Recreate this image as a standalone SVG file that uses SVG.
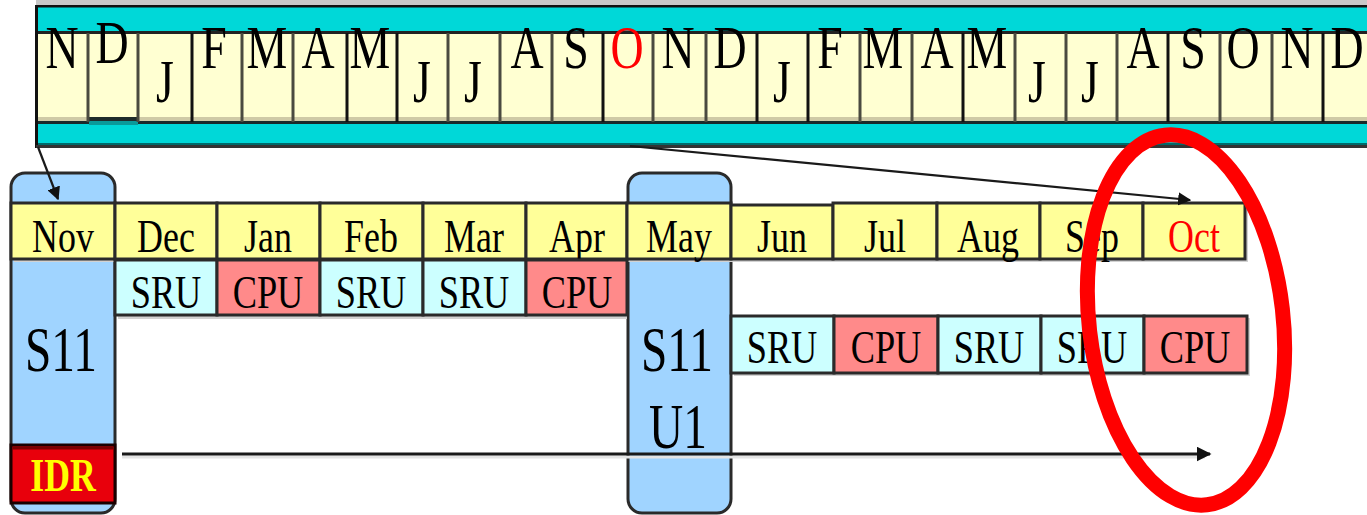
<svg xmlns="http://www.w3.org/2000/svg" width="1367" height="515" viewBox="0 0 1367 515">
  <defs>
    <style>
      .t { font-family: "Liberation Serif", "Times New Roman", serif; text-anchor: middle; fill: #000; }
      .big { font-size: 62px; }
      .mid { font-size: 46px; }
      .s11 { font-size: 64px; }
      .idr { font-size: 47px; font-weight: bold; fill: #FFFF00; }
      .red { fill: #FF0000; }
      .div { stroke: #4a4a40; stroke-width: 3; }
      .cell { stroke: #2a2a2a; stroke-width: 3; }
      .mon { fill: #FFFF99; }
      .sru { fill: #CCFFFF; }
      .cpu { fill: #FF8A8A; }
      .shadow { fill: #d2d2d2; }
      .box { fill: #A0D4FF; stroke: #2a2a2a; stroke-width: 3; }
      .conn { stroke: #1a1a1a; fill: none; }
    </style>
    <marker id="arrowhead" viewBox="0 0 10 10" refX="9" refY="5" markerWidth="5" markerHeight="5" orient="auto" markerUnits="strokeWidth">
      <path d="M0,0 L10,5 L0,10 Z" fill="#111"/>
    </marker>
    <marker id="arrowsmall" viewBox="0 0 10 10" refX="9" refY="5" markerWidth="6" markerHeight="6" orient="auto" markerUnits="strokeWidth">
      <path d="M0,0 L10,5 L0,10 Z" fill="#111"/>
    </marker>
  </defs>

  <rect width="1367" height="515" fill="#ffffff"/>

  <!-- two-year month strip at the top -->
  <g id="year-strip">
    <rect x="36" y="0" width="1331" height="5" fill="#c8c8c8"/>
    <rect x="36" y="5" width="1331" height="143" fill="#00D8D8"/>
    <rect x="36" y="5" width="1331" height="2.5" fill="#111"/>
    <rect x="35" y="5" width="3" height="143" fill="#111"/>
    <rect x="38" y="143" width="1329" height="2" fill="#006a6a"/>
    <rect x="36" y="145" width="1331" height="3" fill="#333"/>
    <!-- cell row -->
    <rect x="38" y="33" width="1329" height="89" fill="#FFFFD2"/>
    <rect x="38" y="117" width="1329" height="4" fill="#cfcaa6"/>
    <rect x="38" y="31" width="1329" height="3" fill="#222"/>
    <rect x="38" y="121" width="1329" height="3" fill="#1a2a2a"/>
    <!-- raised December cell -->
    <rect x="89" y="112" width="49" height="6" fill="#FFFFD2"/>
    <rect x="89" y="117" width="49" height="4" fill="#1f2b2b"/>
    <rect x="89" y="121" width="49" height="4" fill="#0a9a9a"/>
    <g class="div">
      <line x1="88" y1="33" x2="88" y2="122"/>
      <line x1="138" y1="33" x2="138" y2="122"/>
      <line x1="192" y1="33" x2="192" y2="122" stroke="#111"/>
      <line x1="242" y1="33" x2="242" y2="122"/>
      <line x1="293" y1="33" x2="293" y2="122"/>
      <line x1="347" y1="33" x2="347" y2="122" stroke="#111"/>
      <line x1="397" y1="33" x2="397" y2="122" stroke="#111"/>
      <line x1="448" y1="33" x2="448" y2="122"/>
      <line x1="500" y1="33" x2="500" y2="122"/>
      <line x1="552" y1="33" x2="552" y2="122"/>
      <line x1="603" y1="33" x2="603" y2="122" stroke="#111"/>
      <line x1="653" y1="33" x2="653" y2="122"/>
      <line x1="706" y1="33" x2="706" y2="122"/>
      <line x1="757" y1="33" x2="757" y2="122" stroke="#111"/>
      <line x1="808" y1="33" x2="808" y2="122" stroke="#111"/>
      <line x1="860" y1="33" x2="860" y2="122"/>
      <line x1="912" y1="33" x2="912" y2="122"/>
      <line x1="963" y1="33" x2="963" y2="122" stroke="#111"/>
      <line x1="1015" y1="33" x2="1015" y2="122"/>
      <line x1="1066" y1="33" x2="1066" y2="122"/>
      <line x1="1117" y1="33" x2="1117" y2="122"/>
      <line x1="1168" y1="33" x2="1168" y2="122" stroke="#111"/>
      <line x1="1220" y1="33" x2="1220" y2="122"/>
      <line x1="1272" y1="33" x2="1272" y2="122"/>
      <line x1="1323" y1="33" x2="1323" y2="122" stroke="#111"/>
    </g>
    <g class="t big">
      <text transform="translate(62,68) scale(0.74,1)">N</text>
      <text transform="translate(112,63) scale(0.74,1)">D</text>
      <text transform="translate(165,102) scale(0.74,1)">J</text>
      <text transform="translate(214,68) scale(0.74,1)">F</text>
      <text transform="translate(267,68) scale(0.74,1)">M</text>
      <text transform="translate(318,68) scale(0.74,1)">A</text>
      <text transform="translate(370,68) scale(0.74,1)">M</text>
      <text transform="translate(422,102) scale(0.74,1)">J</text>
      <text transform="translate(473,102) scale(0.74,1)">J</text>
      <text transform="translate(527,68) scale(0.74,1)">A</text>
      <text transform="translate(576,68) scale(0.74,1)">S</text>
      <text class="red" transform="translate(627,68) scale(0.74,1)">O</text>
      <text transform="translate(678,68) scale(0.74,1)">N</text>
      <text transform="translate(730,68) scale(0.74,1)">D</text>
      <text transform="translate(782,102) scale(0.74,1)">J</text>
      <text transform="translate(830,68) scale(0.74,1)">F</text>
      <text transform="translate(883,68) scale(0.74,1)">M</text>
      <text transform="translate(937,68) scale(0.74,1)">A</text>
      <text transform="translate(987,68) scale(0.74,1)">M</text>
      <text transform="translate(1037,102) scale(0.74,1)">J</text>
      <text transform="translate(1090,102) scale(0.74,1)">J</text>
      <text transform="translate(1143,68) scale(0.74,1)">A</text>
      <text transform="translate(1193,68) scale(0.74,1)">S</text>
      <text transform="translate(1243,68) scale(0.74,1)">O</text>
      <text transform="translate(1297,68) scale(0.74,1)">N</text>
      <text transform="translate(1347,68) scale(0.74,1)">D</text>
    </g>
  </g>

  <!-- release bars -->
  <g id="release-s11">
    <rect class="box" x="11" y="173" width="104" height="340" rx="14"/>
  </g>
  <g id="release-s11u1">
    <rect class="box" x="628" y="173" width="103" height="340" rx="14"/>
  </g>

  <!-- month row -->
  <g id="months">
    <rect class="shadow" x="14" y="205" width="1234" height="57"/>
    <g class="cell mon">
      <rect x="11" y="203" width="104" height="56"/>
      <rect x="115" y="203" width="102" height="56"/>
      <rect x="217" y="203" width="103" height="56"/>
      <rect x="320" y="203" width="103" height="56"/>
      <rect x="423" y="203" width="103" height="56"/>
      <rect x="526" y="203" width="101" height="56"/>
      <rect x="627" y="203" width="104" height="56"/>
      <rect x="731" y="205" width="102" height="54"/>
      <rect x="833" y="203" width="104" height="56"/>
      <rect x="937" y="203" width="103" height="56"/>
      <rect x="1040" y="203" width="103" height="56"/>
      <rect x="1143" y="203" width="102" height="56"/>
    </g>
    <g class="t mid">
      <text transform="translate(63,252) scale(0.78,1)">Nov</text>
      <text transform="translate(166,252) scale(0.78,1)">Dec</text>
      <text transform="translate(268,252) scale(0.78,1)">Jan</text>
      <text transform="translate(371,252) scale(0.78,1)">Feb</text>
      <text transform="translate(474,252) scale(0.78,1)">Mar</text>
      <text transform="translate(577,252) scale(0.78,1)">Apr</text>
      <text transform="translate(679,252) scale(0.78,1)">May</text>
      <text transform="translate(782,252) scale(0.78,1)">Jun</text>
      <text transform="translate(885,252) scale(0.78,1)">Jul</text>
      <text transform="translate(988,252) scale(0.78,1)">Aug</text>
      <text transform="translate(1092,252) scale(0.78,1)">Sep</text>
      <text class="red" transform="translate(1194,252) scale(0.78,1)">Oct</text>
    </g>
  </g>

  <!-- maintenance updates after S11 -->
  <g id="updates-s11">
    <rect class="shadow" x="118" y="262" width="509" height="57"/>
    <rect class="cell sru" x="115" y="260" width="102" height="55"/>
    <rect class="cell cpu" x="217" y="260" width="103" height="55"/>
    <rect class="cell sru" x="320" y="260" width="103" height="55"/>
    <rect class="cell sru" x="423" y="260" width="103" height="55"/>
    <rect class="cell cpu" x="526" y="260" width="101" height="55"/>
    <g class="t mid">
      <text transform="translate(166,308) scale(0.79,1)">SRU</text>
      <text transform="translate(268,308) scale(0.79,1)">CPU</text>
      <text transform="translate(371,308) scale(0.79,1)">SRU</text>
      <text transform="translate(474,308) scale(0.79,1)">SRU</text>
      <text transform="translate(577,308) scale(0.79,1)">CPU</text>
    </g>
  </g>

  <!-- maintenance updates after S11 U1 -->
  <g id="updates-s11u1">
    <rect class="shadow" x="734" y="318" width="516" height="58"/>
    <rect class="cell sru" x="731" y="316" width="103" height="57"/>
    <rect class="cell cpu" x="834" y="316" width="104" height="57"/>
    <rect class="cell sru" x="938" y="316" width="103" height="57"/>
    <rect class="cell sru" x="1041" y="316" width="103" height="57"/>
    <rect class="cell cpu" x="1144" y="316" width="103" height="57"/>
    <g class="t mid">
      <text transform="translate(782,363) scale(0.79,1)">SRU</text>
      <text transform="translate(886,363) scale(0.79,1)">CPU</text>
      <text transform="translate(989,363) scale(0.79,1)">SRU</text>
      <text transform="translate(1092,363) scale(0.79,1)">SRU</text>
      <text transform="translate(1195,363) scale(0.79,1)">CPU</text>
    </g>
  </g>

  <!-- release labels -->
  <g id="label-s11">
    <text class="t s11" transform="translate(61,371) scale(0.74,1)">S11</text>
    <rect x="11" y="445" width="104" height="58" fill="#E8000C" stroke="#1a0000" stroke-width="3"/>
    <rect x="12.5" y="446.5" width="101" height="3" fill="#7a0000"/>
    <text class="t idr" transform="translate(63,491) scale(0.76,1)">IDR</text>
  </g>
  <g id="label-s11u1">
    <text class="t s11" transform="translate(677,371) scale(0.74,1)">S11</text>
    <text class="t s11" transform="translate(678,448) scale(0.74,1)">U1</text>
  </g>

  <!-- connectors -->
  <g id="connectors">
    <line class="conn" x1="38" y1="147" x2="58" y2="199" stroke-width="2.2" marker-end="url(#arrowsmall)"/>
    <line class="conn" x1="630" y1="146" x2="1190" y2="200" stroke-width="2.2" marker-end="url(#arrowsmall)"/>
    <line x1="122" y1="457" x2="1205" y2="457" stroke="#e4e4e4" stroke-width="3"/>
    <line class="conn" x1="122" y1="454" x2="1210" y2="454" stroke-width="3" marker-end="url(#arrowhead)"/>
  </g>

  <!-- highlight ring -->
  <g id="highlight">
    <ellipse cx="1186" cy="320" rx="97" ry="186" transform="rotate(-6.5 1186 320)" fill="none" stroke="#FF0000" stroke-width="15"/>
  </g>
</svg>
